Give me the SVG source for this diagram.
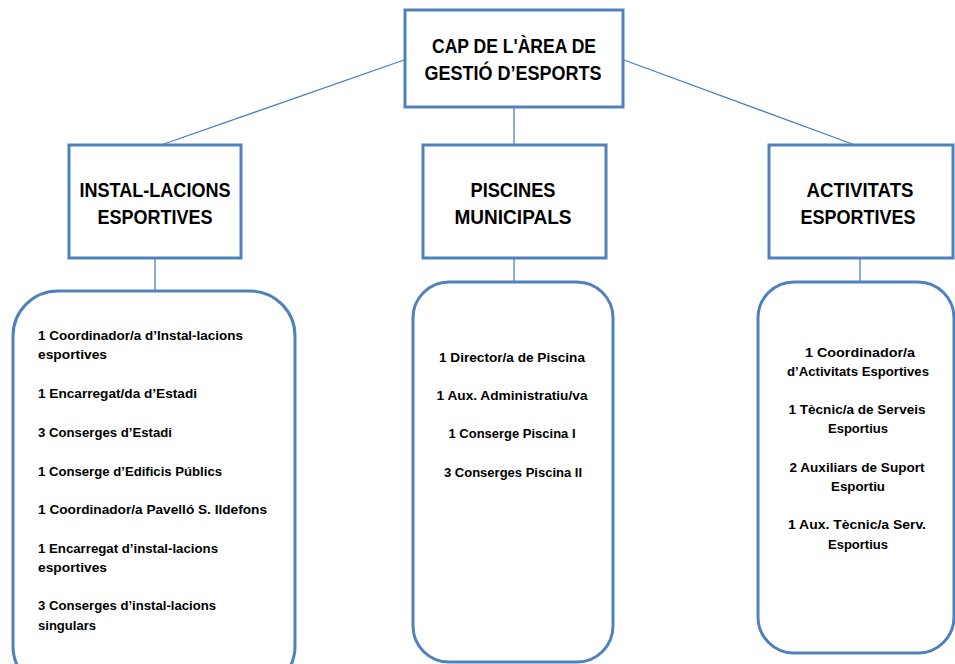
<svg xmlns="http://www.w3.org/2000/svg" width="955" height="664" viewBox="0 0 955 664">
<style>
.box{fill:#fff;stroke:#4f81bd;stroke-width:3}
.rbox{fill:#fff;stroke:#4f81bd;stroke-width:3}
.con{stroke:#4f81bd;stroke-width:1.3;fill:none}
.t{font-family:"Liberation Sans",Arial,sans-serif;font-weight:bold;font-size:20.5px;fill:#000;text-anchor:middle}
.s{font-family:"Liberation Sans",Arial,sans-serif;font-weight:bold;font-size:13.5px;fill:#000}
.c{text-anchor:middle}
</style>
<rect width="955" height="664" fill="#fff"/>
<g id="connectors">
<line class="con" x1="404" y1="60" x2="161" y2="145"/>
<line class="con" x1="624" y1="60" x2="855" y2="145"/>
<line class="con" x1="514" y1="108" x2="514" y2="145"/>
<line class="con" x1="155" y1="259" x2="155" y2="291"/>
<line class="con" x1="514" y1="259" x2="514" y2="282"/>
<line class="con" x1="860" y1="259" x2="860" y2="282"/>
</g>
<g id="cap">
<rect class="box" x="405" y="10" width="218" height="97"/>
<text class="t" x="514" y="53" textLength="164" lengthAdjust="spacingAndGlyphs">CAP DE L'ÀREA DE</text>
<text class="t" x="513" y="80" textLength="177" lengthAdjust="spacingAndGlyphs">GESTIÓ D’ESPORTS</text>
</g>
<g id="installacions">
<rect class="box" x="69" y="145" width="172" height="113"/>
<text class="t" x="155" y="197" textLength="151" lengthAdjust="spacingAndGlyphs">INSTAL-LACIONS</text>
<text class="t" x="155" y="224" textLength="115" lengthAdjust="spacingAndGlyphs">ESPORTIVES</text>
</g>
<g id="piscines">
<rect class="box" x="423" y="145" width="183" height="113"/>
<text class="t" x="513" y="197" textLength="85" lengthAdjust="spacingAndGlyphs">PISCINES</text>
<text class="t" x="513" y="224" textLength="117" lengthAdjust="spacingAndGlyphs">MUNICIPALS</text>
</g>
<g id="activitats">
<rect class="box" x="769" y="145" width="184" height="113"/>
<text class="t" x="860" y="197" textLength="107" lengthAdjust="spacingAndGlyphs">ACTIVITATS</text>
<text class="t" x="858" y="224" textLength="115" lengthAdjust="spacingAndGlyphs">ESPORTIVES</text>
</g>
<g id="llista-installacions">
<rect class="rbox" x="13" y="291" width="282" height="400" rx="45" ry="45"/>
<text class="s" x="38" y="339.5" textLength="205" lengthAdjust="spacingAndGlyphs">1 Coordinador/a d’Instal-lacions</text>
<text class="s" x="38" y="358.5" textLength="69" lengthAdjust="spacingAndGlyphs">esportives</text>
<text class="s" x="38" y="397.5" textLength="159" lengthAdjust="spacingAndGlyphs">1 Encarregat/da d’Estadi</text>
<text class="s" x="38" y="436.5" textLength="134" lengthAdjust="spacingAndGlyphs">3 Conserges d’Estadi</text>
<text class="s" x="38" y="475.5" textLength="184" lengthAdjust="spacingAndGlyphs">1 Conserge d’Edificis Públics</text>
<text class="s" x="38" y="513.5" textLength="229" lengthAdjust="spacingAndGlyphs">1 Coordinador/a Pavelló S. Ildefons</text>
<text class="s" x="38" y="552.5" textLength="180" lengthAdjust="spacingAndGlyphs">1 Encarregat d’instal-lacions</text>
<text class="s" x="38" y="571.5" textLength="69" lengthAdjust="spacingAndGlyphs">esportives</text>
<text class="s" x="38" y="609.5" textLength="178" lengthAdjust="spacingAndGlyphs">3 Conserges d’instal-lacions</text>
<text class="s" x="38" y="629.5" textLength="58" lengthAdjust="spacingAndGlyphs">singulars</text>
</g>
<g id="llista-piscines">
<rect class="rbox" x="413" y="282" width="200" height="380" rx="36" ry="36"/>
<text class="s c" x="512" y="361.5" textLength="146" lengthAdjust="spacingAndGlyphs">1 Director/a de Piscina</text>
<text class="s c" x="512" y="399.5" textLength="151" lengthAdjust="spacingAndGlyphs">1 Aux. Administratiu/va</text>
<text class="s c" x="512" y="437.5" textLength="127" lengthAdjust="spacingAndGlyphs">1 Conserge Piscina I</text>
<text class="s c" x="513" y="476.5" textLength="138" lengthAdjust="spacingAndGlyphs">3 Conserges Piscina II</text>
</g>
<g id="llista-activitats">
<rect class="rbox" x="758" y="282" width="196" height="371" rx="36" ry="36"/>
<text class="s c" x="860" y="356.5" textLength="110" lengthAdjust="spacingAndGlyphs">1 Coordinador/a</text>
<text class="s c" x="858" y="375.5" textLength="142" lengthAdjust="spacingAndGlyphs">d’Activitats Esportives</text>
<text class="s c" x="857" y="413.5" textLength="137" lengthAdjust="spacingAndGlyphs">1 Tècnic/a de Serveis</text>
<text class="s c" x="858" y="432.5" textLength="60" lengthAdjust="spacingAndGlyphs">Esportius</text>
<text class="s c" x="857" y="471.5" textLength="135" lengthAdjust="spacingAndGlyphs">2 Auxiliars de Suport</text>
<text class="s c" x="858" y="490.5" textLength="54" lengthAdjust="spacingAndGlyphs">Esportiu</text>
<text class="s c" x="857" y="528.5" textLength="138" lengthAdjust="spacingAndGlyphs">1 Aux. Tècnic/a Serv.</text>
<text class="s c" x="858" y="548.5" textLength="60" lengthAdjust="spacingAndGlyphs">Esportius</text>
</g>
</svg>
